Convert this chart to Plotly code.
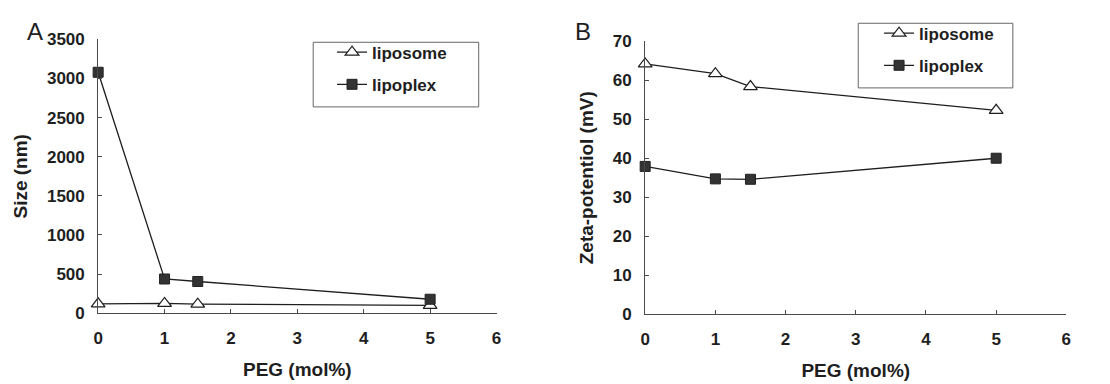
import plotly.graph_objects as go

# PEG content of the formulations (mol%)
peg = [0, 1, 1.5, 5]

# Panel A: particle size (nm)
size_liposome = [120, 125, 115, 100]
size_lipoplex = [3080, 437, 405, 178]

# Panel B: zeta potential (mV)
zeta_liposome = [64.2, 61.7, 58.4, 52.3]
zeta_lipoplex = [37.9, 34.7, 34.6, 40.0]

series_names = ["liposome", "lipoplex"]

FONT = "Arial, Liberation Sans, Helvetica, sans-serif"
INK = "#1e1e1e"
AXIS = "#4a4a4a"

tri = dict(symbol="triangle-up", size=12, color="white", line=dict(color=INK, width=1.2))
sq = dict(symbol="square", size=10, color="#333333", line=dict(color="#222222", width=1))
line = dict(color=INK, width=1.3)

fig = go.Figure()

fig.add_trace(go.Scatter(x=peg, y=size_liposome, name=series_names[0], mode="lines+markers",
                         marker=tri, line=line, xaxis="x", yaxis="y", legend="legend",
                         legendgroup="a1", cliponaxis=False))
fig.add_trace(go.Scatter(x=peg, y=size_lipoplex, name=series_names[1], mode="lines+markers",
                         marker=sq, line=line, xaxis="x", yaxis="y", legend="legend",
                         legendgroup="a2", cliponaxis=False))
fig.add_trace(go.Scatter(x=peg, y=zeta_liposome, name=series_names[0], mode="lines+markers",
                         marker=tri, line=line, xaxis="x2", yaxis="y2", legend="legend2",
                         legendgroup="b1", cliponaxis=False))
fig.add_trace(go.Scatter(x=peg, y=zeta_lipoplex, name=series_names[1], mode="lines+markers",
                         marker=sq, line=line, xaxis="x2", yaxis="y2", legend="legend2",
                         legendgroup="b2", cliponaxis=False))

W, H = 1110, 384


def px_x(p):
    return p / W


def px_y(p):
    return 1 - p / H


tick_font = dict(family=FONT, size=17, color=INK, weight="bold")
title_font = dict(family=FONT, size=19, color=INK, weight="bold")
legend_font = dict(family=FONT, size=17, color=INK, weight="bold")

common_x = dict(range=[0, 6], dtick=1, tick0=0, showline=True, linecolor=AXIS, linewidth=1,
                ticks="inside", ticklen=4, tickcolor=AXIS, showgrid=False, zeroline=False,
                tickfont=tick_font, ticklabelstandoff=9,
                title=dict(text="PEG (mol%)", font=title_font, standoff=16))
common_y = dict(showline=True, linecolor=AXIS, linewidth=1, ticks="inside", ticklen=4,
                tickcolor=AXIS, showgrid=False, zeroline=False,
                tickfont=tick_font, ticklabelstandoff=9)

fig.update_layout(
    width=W, height=H,
    margin=dict(l=0, r=0, t=0, b=0),
    paper_bgcolor="white", plot_bgcolor="white",
    font=dict(family=FONT, color=INK),
    xaxis=dict(common_x, domain=[px_x(94), px_x(496)], anchor="y"),
    yaxis=dict(common_y, domain=[px_y(320), px_y(32)], anchor="x", range=[0, 3500], dtick=500,
               tickformat="d",
               title=dict(text="Size (nm)", font=title_font, standoff=14)),
    xaxis2=dict(common_x, domain=[px_x(646), px_x(1071)], anchor="y2"),
    yaxis2=dict(common_y, domain=[px_y(321), px_y(34)], anchor="x2", range=[0, 70], dtick=10,
                title=dict(text="Zeta-potentiol (mV)", font=title_font, standoff=14)),
    legend=dict(x=px_x(330), y=px_y(27), xanchor="left", yanchor="top",
                bgcolor="rgba(0,0,0,0)", borderwidth=0, tracegroupgap=7,
                font=legend_font, itemwidth=30),
    legend2=dict(x=px_x(882), y=px_y(7), xanchor="left", yanchor="top",
                 bgcolor="rgba(0,0,0,0)", borderwidth=0, tracegroupgap=7,
                 font=legend_font, itemwidth=30),
    showlegend=True,
    shapes=[
        dict(type="rect", xref="paper", yref="paper", x0=px_x(311), x1=px_x(478),
             y0=px_y(103), y1=px_y(35), line=dict(color="#666666", width=1)),
        dict(type="rect", xref="paper", yref="paper", x0=px_x(861), x1=px_x(1017),
             y0=px_y(83), y1=px_y(15), line=dict(color="#666666", width=1)),
    ],
    annotations=[
        dict(text="A", xref="paper", yref="paper", x=px_x(30), y=px_y(24), showarrow=False,
             xanchor="center", yanchor="middle", font=dict(family=FONT, size=24, color=INK)),
        dict(text="B", xref="paper", yref="paper", x=px_x(583), y=px_y(24), showarrow=False,
             xanchor="center", yanchor="middle", font=dict(family=FONT, size=24, color=INK)),
    ],
)

fig.write_html("out.html")
